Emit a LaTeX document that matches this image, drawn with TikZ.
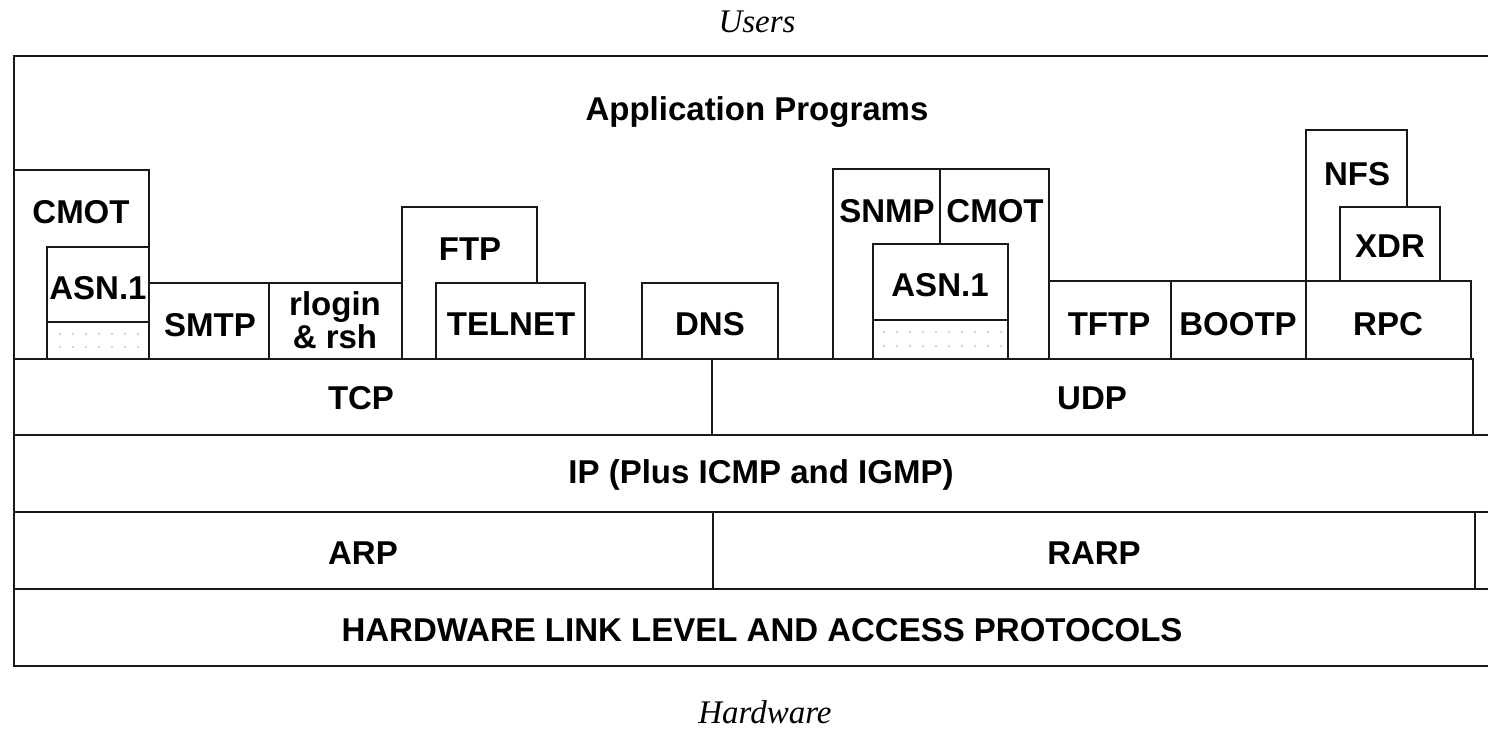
\documentclass[tikz,border=0pt]{standalone}
\usepackage{fontspec}
\setmainfont{Liberation Serif}
\newfontfamily\hv{Liberation Sans}
\begin{document}
\begin{tikzpicture}[x=1pt,y=-1pt,
  rule/.style={line width=2.7pt, black!90, line join=miter},
  lbl/.style={font=\hv\bfseries\fontsize{33}{36}\selectfont, inner sep=0pt, anchor=center, align=center},
  italcap/.style={font=\itshape\fontsize{33}{36}\selectfont, inner sep=0pt, anchor=center},
  dotrow/.style={gray!70}]
\useasboundingbox (0,0) rectangle (1488,728);

% outer frame (runs off to the right)
\draw[rule] (1490,56) -- (14,56) -- (14,666) -- (1490,666);

% left management stack
\draw[rule] (14,170) -- (149,170) -- (149,247);
\draw[rule] (47,247) rectangle (149,359);
\draw[rule] (47,322) -- (149,322);
% mail and remote login
\draw[rule] (149,283) rectangle (269,359);
\draw[rule] (269,283) rectangle (402,359);
% file transfer and terminal
\draw[rule] (402,359) -- (402,207) -- (537,207) -- (537,283);
\draw[rule] (436,283) rectangle (585,359);
% name service
\draw[rule] (642,283) rectangle (778,359);
% network management over UDP
\draw[rule] (833,169) rectangle (1049,359);
\draw[rule] (940,169) -- (940,244);
\draw[rule] (873,244) rectangle (1008,359);
\draw[rule] (873,320) -- (1008,320);
% UDP services
\draw[rule] (1049,281) rectangle (1171,359);
\draw[rule] (1171,281) rectangle (1306,359);
\draw[rule] (1306,281) rectangle (1471,359);
\draw[rule] (1306,281) -- (1306,130) -- (1407,130) -- (1407,207);
\draw[rule] (1340,207) rectangle (1440,281);

% transport layer
\draw[rule] (14,359) rectangle (712,435);
\draw[rule] (712,359) rectangle (1473,435);
% internet layer
\draw[rule] (14,435) -- (1490,435);
\draw[rule] (14,512) -- (1490,512);
% address resolution
\draw[rule] (14,512) rectangle (713,589);
\draw[rule] (713,512) rectangle (1475,589);
% link layer
\draw[rule] (14,589) -- (1490,589);

% dotted fill of the ASN.1 encoding slots
\foreach \i in {0,...,6} {
  \fill[dotrow] (60+\i*13,334) circle (0.9);
  \fill[dotrow] (60+\i*13,347) circle (0.9);
}
\foreach \i in {0,...,9} {
  \fill[dotrow] (884+\i*13,332) circle (0.9);
  \fill[dotrow] (884+\i*13,346) circle (0.9);
}

% labels
\node[italcap] (users) at (757,22) {Users};
\node[italcap] (hw) at (765,712) {Hardware};
\node[lbl] (apps) at (757,112) {Application Programs};
\node[lbl] (cmotA) at (81,212) {CMOT};
\node[lbl] (asnA) at (98,288) {ASN.1};
\node[lbl] (smtp) at (210,325) {SMTP};
\node[lbl] (rlogin) at (335,320) {rlogin\\[-3pt]\& rsh};
\node[lbl] (ftp) at (470,249) {FTP};
\node[lbl] (telnet) at (511,324) {TELNET};
\node[lbl] (dns) at (710,324) {DNS};
\node[lbl] (snmp) at (887,211) {SNMP};
\node[lbl] (cmotB) at (995,211) {CMOT};
\node[lbl] (asnB) at (940,285) {ASN.1};
\node[lbl] (tftp) at (1109,324) {TFTP};
\node[lbl] (bootp) at (1238,324) {BOOTP};
\node[lbl] (rpc) at (1388,324) {RPC};
\node[lbl] (nfs) at (1357,174) {NFS};
\node[lbl] (xdr) at (1390,246) {XDR};
\node[lbl] (tcp) at (361,398) {TCP};
\node[lbl] (udp) at (1092,398) {UDP};
\node[lbl] (ip) at (761,475) {IP (Plus ICMP and IGMP)};
\node[lbl] (arp) at (363,553) {ARP};
\node[lbl] (rarp) at (1094,553) {RARP};
\node[lbl] (link) at (762,630) {HARDWARE LINK LEVEL AND ACCESS PROTOCOLS};
\end{tikzpicture}
\end{document}
